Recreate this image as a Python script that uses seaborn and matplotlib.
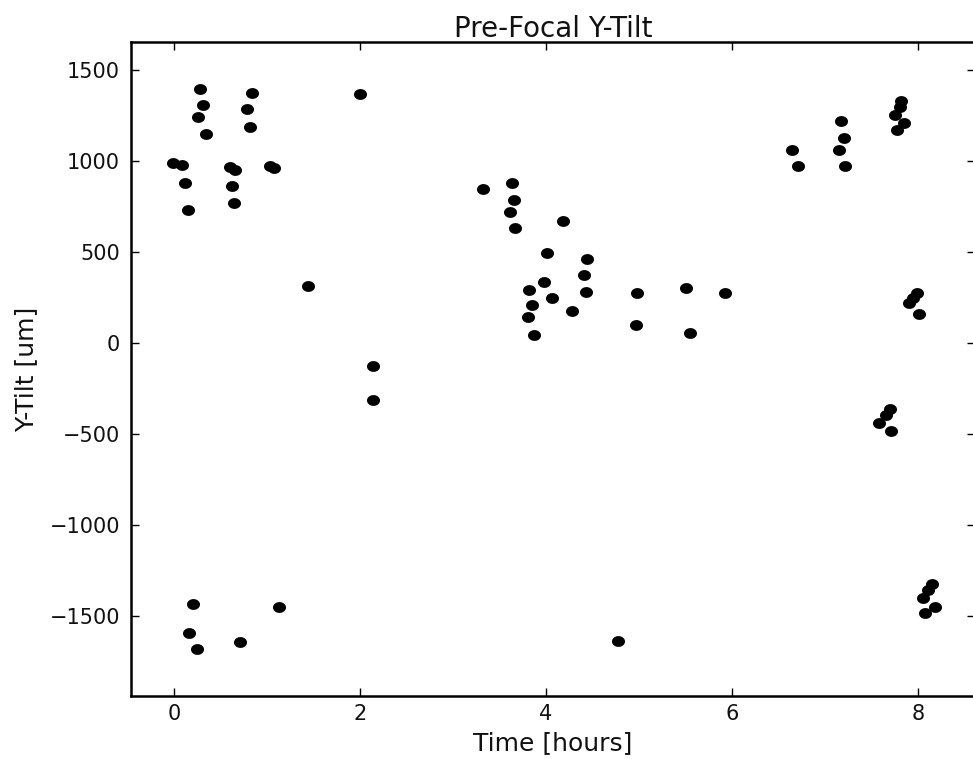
import numpy as np
import pandas as pd
import matplotlib
matplotlib.use("Agg")
import matplotlib.pyplot as plt
import seaborn as sns

# Data
time_hours = [
    -0.01, 0.09, 0.12, 0.15, 0.28, 0.31, 0.26, 0.34,
    0.60, 0.66, 0.62, 0.65, 0.84, 0.78, 0.82, 1.03, 1.08,
    1.44, 2.00, 3.32,
    2.14, 2.14, 0.20, 0.16, 0.25, 0.71, 1.13,
    4.98, 4.97, 5.51, 5.55, 5.93,
    6.65, 6.71, 7.17, 7.20, 7.15, 7.22,
    7.82, 7.81, 7.75, 7.85, 7.77,
    7.99, 7.95, 7.90, 8.01,
    4.77, 7.70, 7.66, 7.58, 7.71,
    8.15, 8.11, 8.05, 8.18, 8.08,
    3.63, 3.66, 3.61, 3.67, 4.18, 4.01, 4.44, 4.41, 3.98, 4.43,
    3.82, 4.06, 3.85, 4.28, 3.81, 3.87,
]
y_tilt_um = [
    987, 980, 881, 731, 1397, 1306, 1240, 1150,
    965, 949, 861, 769, 1375, 1286, 1189, 973, 960,
    313, 1368, 844,
    -126, -315, -1434, -1592, -1681, -1643, -1449,
    273, 97, 304, 57, 273,
    1062, 971, 1220, 1128, 1062, 971,
    1328, 1299, 1255, 1207, 1170,
    273, 245, 218, 159,
    -1637, -363, -396, -438, -482,
    -1324, -1357, -1403, -1449, -1482,
    877, 786, 718, 630, 669, 493, 462, 372, 333, 282,
    291, 247, 207, 177, 141, 42,
]
x_ticks = [0, 2, 4, 6, 8]
y_ticks = [-1500, -1000, -500, 0, 500, 1000, 1500]

df = pd.DataFrame({"Time [hours]": time_hours, "Y-Tilt [um]": y_tilt_um})

sns.set_style("ticks")
plt.rcParams["font.family"] = ["DejaVu Sans"]

fig = plt.figure(figsize=(9.73, 7.59), dpi=100)
ax = fig.add_axes([131 / 973, 1 - 695.7 / 759, (975 - 131) / 973, (695.7 - 42.3) / 759])

t = np.linspace(0, 2 * np.pi, 40)
ellipse = np.column_stack([1.2 * np.cos(t), np.sin(t)])

sns.scatterplot(data=df, x="Time [hours]", y="Y-Tilt [um]", ax=ax,
                color="black", marker=ellipse, s=88, linewidth=0, legend=False)

ax.set_xlim(-0.462, 8.613)
ax.set_ylim(-1938, 1652)
ax.set_xticks(x_ticks)
ax.set_yticks(y_ticks)
ax.set_yticklabels([f"{v}".replace("-", "\u2212") for v in y_ticks])

ax.tick_params(direction="in", length=6, width=1, top=True, right=True,
               labelsize=15, colors="black", labelcolor="#111111")
ax.tick_params(axis="x", pad=6)
ax.tick_params(axis="y", pad=8)
for sp in ax.spines.values():
    sp.set_linewidth(1.8)
    sp.set_color("black")

ax.set_xlabel("Time [hours]", fontsize=18, labelpad=5, color="#111111")
ax.set_ylabel("Y-Tilt [um]", fontsize=18, labelpad=8, color="#111111")
ax.set_title("Pre-Focal Y-Tilt", fontsize=20, pad=4, color="#111111")

fig.savefig("out.png", dpi=100)
